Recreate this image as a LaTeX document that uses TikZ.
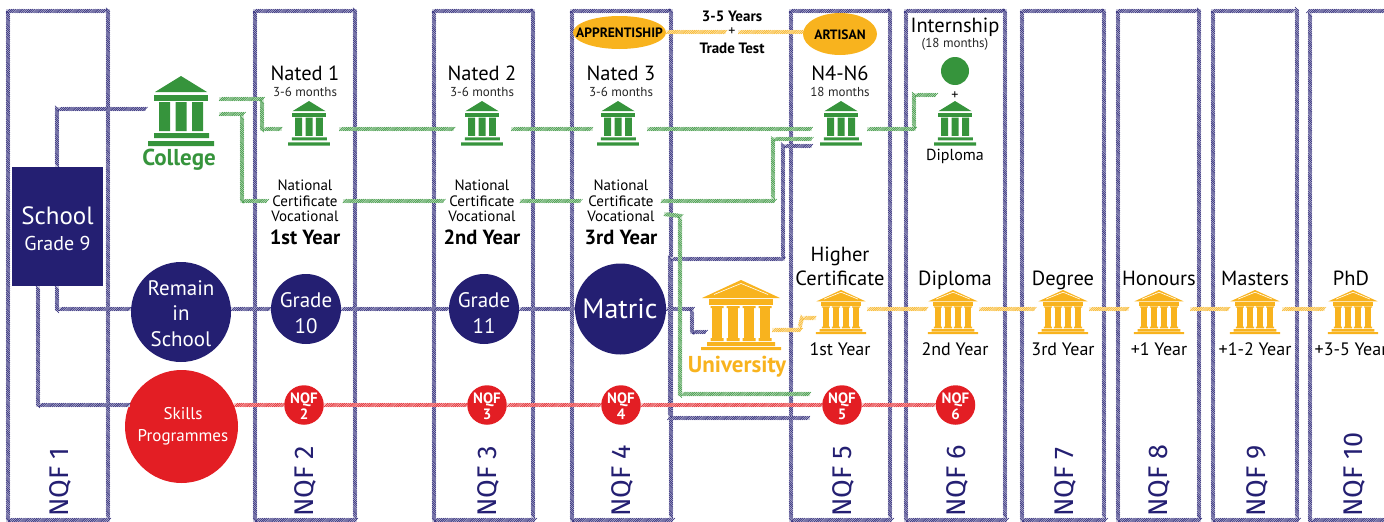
\documentclass[tikz,border=0pt]{standalone}
\usepackage{fontspec}
\usetikzlibrary{shapes.geometric,decorations.pathreplacing}
\setmainfont{PT Sans}
\newfontfamily\nqffont{Fira Sans}
\definecolor{navy}{HTML}{241F72}
\definecolor{grn}{HTML}{36943C}
\definecolor{org}{HTML}{F8B31E}
\definecolor{rd}{HTML}{E31E24}
\newcommand{\fs}[1]{\fontsize{#1}{#1}\selectfont}
\tikzset{
 x=1pt,y=-1pt,
 hatchbase/.style={line width=4.2pt,line join=miter,draw=#1!25,
   postaction={draw=#1,line width=.5pt,decorate,
     decoration={border,segment length=1.9pt,amplitude=5.7pt,angle=45,raise=-2pt,pre length=0pt,post length=0pt}}},
 hatchnavy/.style={hatchbase=navy},
 hatchgrn/.style={hatchbase=grn},
 hatchorg/.style={hatchbase=org},
 hatchred/.style={hatchbase=rd},
 lab/.style={inner sep=0pt,align=center,text=black,anchor=base},
 title/.style={lab,font=\fs{20.5}},
 sub/.style={lab,font=\fs{13},text=black!85},
 yrs/.style={lab,font=\fs{18}},
 boldyr/.style={lab,font=\fs{20.5}\bfseries},
 nqf/.style={inner sep=0pt,rotate=90,anchor=base west,text=navy,font=\fs{27}\nqffont},
 nc/.style={inner xsep=4pt,inner ysep=0pt,align=center,font=\fontsize{15}{15.6}\selectfont},
 circ/.style={circle,inner sep=0pt,align=center,text=white},
 gap/.style={inner sep=0pt,minimum height=6pt},
 whitetxt/.style={inner sep=0pt,text=white,anchor=base},
 gb/.pic={
  \fill[grn] (0,0)--(26,16)--(-26,16)--cycle;
  \fill[grn] (-27,19) rectangle (27,25);
  \fill[grn] (-22,26) rectangle (-11,55) (-5.5,26) rectangle (5.5,55) (11,26) rectangle (22,55);
  \fill[grn] (-27,57) rectangle (28,62) (-33,65) rectangle (33,70);
 },
 ob/.pic={
  \fill[org] (0,0)--(39,18)--(-39,18)--cycle;
  \draw[white,line width=.6pt] (-27,14.5)--(0,3.5)--(27,14.5);
  \fill[org] (-32,19) rectangle (32,25);
  \foreach \c in {-24,-8,8,24}{
    \fill[org] (\c-5,27) rectangle (\c+5,58);
    \fill[org] (\c-6.5,26) rectangle (\c+6.5,28) (\c-6.5,58) rectangle (\c+6.5,61);
  }
  \fill[org] (-34,62) rectangle (34,66) (-40,67) rectangle (40,70);
 },
}
\begin{document}
\begin{tikzpicture}
\useasboundingbox (0,0) rectangle (1384,522);
\foreach \name/\l/\r in {a/8/108,b/255/355,c/434/533,d/572/671,e/791/890,f/906/1005,g/1022/1104,h/1118/1199,i/1213/1297}{
  \coordinate (col\name tl) at (\l,11);
  \coordinate (col\name br) at (\r,520);
  \draw[hatchnavy] (col\name tl) rectangle (col\name br);
}
\coordinate (coljtl) at (1310,11);
\coordinate (coljbl) at (1310,520);
\coordinate (coljtr) at (1390,11);
\coordinate (coljbr) at (1390,520);
\draw[hatchnavy] (coljtr)--(coljtl)--(coljbl)--(coljbr);

\node[fill=navy,minimum width=91pt,minimum height=119pt,inner sep=0pt] (school) at (57.5,226.5) {};
\node[whitetxt,font=\fs{25}] (schooltxt) at (57.5,224.5) {School};
\node[whitetxt,font=\fs{20}] (gr9) at (57.5,250.5) {Grade 9};

\node[gap,minimum width=70pt] (college) at (181,109) {};
\pic at (181,76) {gb};
\node[inner sep=0pt,anchor=base,text=grn,font=\fs{23}\bfseries] (collegetxt) at (179,165) {College};

\node[circ,fill=navy,minimum size=100pt] (remain) at (181,312) {};
\node[whitetxt,font=\fs{21}] (r1) at (181,295) {Remain};
\node[whitetxt,font=\fs{21}] (r2) at (181,320) {in};
\node[whitetxt,font=\fs{21}] (r3) at (181,346) {School};
\node[circ,fill=navy,minimum size=70pt] (g10) at (306,309) {};
\node[whitetxt,font=\fs{21}] (g10a) at (306,307) {Grade};
\node[whitetxt,font=\fs{21}] (g10b) at (306,333) {10};
\node[circ,fill=navy,minimum size=70pt] (g11) at (484,309) {};
\node[whitetxt,font=\fs{21}] (g11a) at (484,307) {Grade};
\node[whitetxt,font=\fs{21}] (g11b) at (484,333) {11};
\node[circ,fill=navy,minimum size=91pt] (matric) at (620.5,309) {};
\node[whitetxt,font=\fs{28}] (matrict) at (620,318) {Matric};

\node[circ,fill=rd,minimum size=113pt] (skills) at (181.5,426.5) {};
\node[whitetxt,font=\fs{17}] (sk1) at (183,419) {Skills};
\node[whitetxt,font=\fs{17}] (sk2) at (183,441) {Programmes};
\foreach \n/\x/\t in {q2/304/2,q3/487/3,q4/621/4,q5/842/5,q6/955.5/6}{
  \node[circ,fill=rd,minimum size=39.5pt] (\n) at (\x,405) {};
  \node[whitetxt,font=\fs{15}\bfseries] (\n a) at (\x,403) {NQF};
  \node[whitetxt,font=\fs{15}\bfseries] (\n b) at (\x,419.5) {\t};
}

\foreach \n/\x/\w in {n1/310.5/57,n2/482.5/57,n3/620/54,n4/839.5/55,dipb/955/42}{
  \node[gap,minimum width=\w pt] (\n) at (\x,129) {};
}
\foreach \x in {309,482,618,841,955}{ \pic[scale=.636] at (\x,101) {gb}; }

\node[gap,minimum width=67pt,minimum height=6pt] (uni) at (738.5,330) {};
\pic at (741,280) {ob};
\node[inner sep=0pt,anchor=base,text=org,font=\fs{23}\bfseries] (unitxt) at (737,372.5) {University};
\foreach \n/\x/\w in {hc/841.5/51,dip/953/52,deg/1062/54,hon/1159.5/61,mas/1255.5/53,phd/1353/56}{
  \node[gap,minimum width=\w pt] (\n) at (\x,309) {};
}
\foreach \x in {841,953,1063,1159,1255,1353}{ \pic[scale=.63] at (\x,290) {ob}; }

\node[ellipse,fill=org,minimum width=93pt,minimum height=33pt,inner sep=0pt] (app) at (619.5,32.5) {};
\node[inner sep=0pt,anchor=base,font=\fs{13.5}\bfseries] (appt) at (619.5,37.5) {APPRENTISHIP};
\node[ellipse,fill=org,minimum width=74pt,minimum height=42pt,inner sep=0pt] (art) at (840,34) {};
\node[inner sep=0pt,anchor=base,font=\fs{13.5}\bfseries] (artt) at (840,39) {ARTISAN};
\node[circle,fill=grn,minimum size=28pt,inner sep=0pt] (intc) at (955,71) {};

\node[title] (nt1) at (305,80) {Nated 1};
\node[sub] (m1) at (305,96) {3-6 months};
\node[title] (nt2) at (482,80) {Nated 2};
\node[sub] (m2) at (482,96) {3-6 months};
\node[title] (nt3) at (621,80) {Nated 3};
\node[sub] (m3) at (621,96) {3-6 months};
\node[title] (n46) at (840,80) {N4-N6};
\node[sub] (m4) at (840,96) {18 months};
\node[title] (intern) at (955,32) {Internship};
\node[sub] (m5) at (955,47.5) {(18 months)};
\node[lab,font=\fs{14}] (plus) at (955,99) {+};
\node[lab,font=\fs{16}] (dipt) at (955,160) {Diploma};
\node[lab,font=\fs{15}\bfseries] (yr) at (732,21) {3-5 Years};
\node[inner sep=0pt,text=black,font=\fs{14},minimum width=12pt] (plus2) at (732,32) {+};
\node[lab,font=\fs{15}\bfseries] (tt) at (732,53) {Trade Test};

\node[nc] (nc1) at (305,201) {National\\Certificate\\Vocational};
\node[nc] (nc2) at (482,201) {National\\Certificate\\Vocational};
\node[nc,inner xsep=6pt] (nc3) at (621,201) {National\\Certificate\\Vocational};
\node[boldyr] (y1) at (305,244) {1st Year};
\node[boldyr] (y2) at (482,244) {2nd Year};
\node[boldyr] (y3) at (621,244) {3rd Year};

\node[title] (t1) at (840,261) {Higher};
\node[title] (t2) at (840,285) {Certificate};
\node[title] (t3) at (955,285) {Diploma};
\node[title] (t4) at (1063,285) {Degree};
\node[title] (t5) at (1159,285) {Honours};
\node[title] (t6) at (1255,285) {Masters};
\node[title] (t7) at (1351,285) {PhD};
\node[yrs] (u1) at (840,355) {1st Year};
\node[yrs] (u2) at (955,355) {2nd Year};
\node[yrs] (u3) at (1063,355) {3rd Year};
\node[yrs] (u4) at (1159,355) {+1 Year};
\node[yrs] (u5) at (1255,355) {+1-2 Year};
\node[yrs] (u6) at (1351,355) {+3-5 Year};

\foreach \n/\x/\t in {l1/68/1,l2/313/2,l3/496/3,l4/630/4,l5/851/5,l6/965/6,l7/1073/7,l8/1167/8,l9/1265/9,l10/1362/10}{
  \node[nqf] (\n) at (\x,517) {NQF \t};
}

\coordinate (s1) at (57,109);
\coordinate (s2) at (57,309);
\coordinate (s3) at (38,405);
\coordinate (coll) at (146,109);
\coordinate (sk) at (130,405);
\coordinate (g1a) at (219,99);
\coordinate (g1b) at (262,99);
\coordinate (g2a) at (219,114);
\coordinate (g2b) at (242,114);
\coordinate (g3) at (773,139);
\coordinate (g3e) at (812,139);
\coordinate (g4a) at (664,214);
\coordinate (g4b) at (680,216);
\coordinate (g4c) at (680,394);
\coordinate (g4e) at (810,394);
\coordinate (g5) at (914,129);
\coordinate (g5e) at (936,95);
\coordinate (m1a) at (666,309);
\coordinate (m1b) at (692,309);
\coordinate (m1c) at (692,332);
\coordinate (m1e) at (706,332);
\coordinate (m2a) at (670,259);
\coordinate (m2b) at (783,259);
\coordinate (m2c) at (783,146);
\coordinate (m2e) at (812,146);
\coordinate (m3a) at (670,418);
\coordinate (m3e) at (810,418);
\coordinate (o1a) at (799,330);
\coordinate (o1b) at (802,318);
\coordinate (o1e) at (816,318);
\coordinate (r0) at (234,405);

\draw[hatchnavy] (school.north -| s1) -- (s1) -- (coll);
\draw[hatchnavy] (school.south -| s2) -- (s2) -- (remain.west |- s2);
\draw[hatchnavy] (school.south -| s3) -- (s3) -- (sk);
\draw[hatchnavy] (remain.east |- g10.west) -- (g10.west);
\draw[hatchnavy] (g10.east) -- (g11.west);
\draw[hatchnavy] (g11.east) -- (matric.west);
\draw[hatchnavy] (m1a) -- (m1b) -- (m1c) -- (m1e);
\draw[hatchnavy] (m3e) -- (m3a) -- (m2a) -- (m2b) -- (m2c) -- (m2e);
\draw[hatchgrn] (g1a) -- (g1b) -- (g1b |- n1.west) -- (n1.west);
\draw[hatchgrn] (g2a) -- (g2b) -- (g2b |- nc1.west) -- (nc1.west);
\draw[hatchgrn] (n1.east) -- (n2.west);
\draw[hatchgrn] (n2.east) -- (n3.west);
\draw[hatchgrn] (n3.east) -- (n4.west);
\draw[hatchgrn] (n4.east) -- (g5) -- (g5 |- g5e) -- (g5e);
\draw[hatchgrn] (nc1.east) -- (nc2.west);
\draw[hatchgrn] (nc2.east) -- (nc3.west);
\draw[hatchgrn] (nc3.east) -- (nc3.east -| g3) -- (g3) -- (g3e);
\draw[hatchgrn] (g4a) -- (g4b) -- (g4c) -- (g4e);
\draw[hatchorg] (app.east |- plus2.west) -- (plus2.west);
\draw[hatchorg] (plus2.east) -- (art.west |- plus2.east);
\draw[hatchorg] (uni.east) -- (o1a) -- (o1b) -- (o1e);
\draw[hatchorg] (hc.east) -- (dip.west);
\draw[hatchorg] (dip.east) -- (deg.west);
\draw[hatchorg] (deg.east) -- (hon.west);
\draw[hatchorg] (hon.east) -- (mas.west);
\draw[hatchorg] (mas.east) -- (phd.west);
\draw[hatchred] (r0) -- (q2.west);
\draw[hatchred] (q2.east) -- (q3.west);
\draw[hatchred] (q3.east) -- (q4.west);
\draw[hatchred] (q4.east) -- (q5.west);
\draw[hatchred] (q5.east) -- (q6.west);
\end{tikzpicture}
\end{document}
